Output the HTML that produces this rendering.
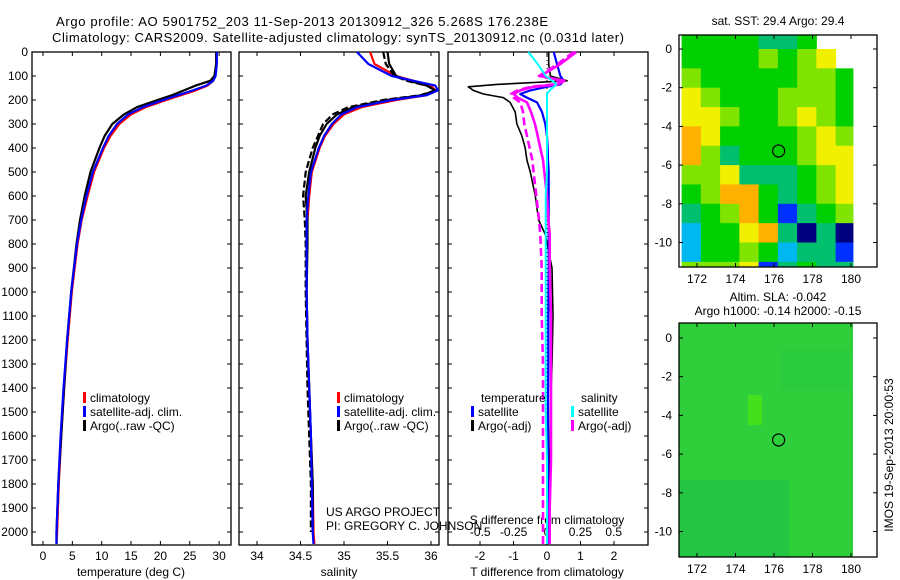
<!DOCTYPE html>
<html><head><meta charset="utf-8"><style>
body{margin:0;background:#fff;}
svg{display:block;font-family:"Liberation Sans",Arial,sans-serif;}
</style></head><body>
<svg id="fig" width="900" height="580" xmlns="http://www.w3.org/2000/svg">
<rect width="900" height="580" fill="#fff"/>
<text x="56" y="26" font-size="13" textLength="492">Argo profile: AO 5901752_203 11-Sep-2013 20130912_326 5.268S 176.238E</text>
<text x="52" y="42" font-size="13" textLength="572">Climatology: CARS2009. Satellite-adjusted climatology: synTS_20130912.nc (0.031d later)</text>
<g id="g"></g>
</svg>
<script>
// ---------- data ----------
const depthLabels=[0,100,200,300,400,500,600,700,800,900,1000,1100,1200,1300,1400,1500,1600,1700,1800,1900,2000];
const tempTicks=[0,5,10,15,20,25,30];
const salTicks=[34,34.5,35,35.5,36];
const tdTicks=[-2,-1,0,1,2];
const sdTicks=[-0.5,-0.25,0,0.25,0.5];
const profDepths=[0,50,100,120,140,160,180,200,230,260,300,350,400,500,600,700,800,1000,1200,1400,1600,1800,2000,2050];
const tempClim=[29.5,29.5,29.3,29.0,28.0,26.0,23.5,21.0,17.5,15.0,13.0,11.5,10.4,8.7,7.6,6.6,5.9,4.9,4.2,3.6,3.1,2.7,2.4,2.3];
const tempSat =[29.6,29.6,29.4,29.0,27.8,25.5,23.0,20.5,17.0,14.5,12.6,11.2,10.2,8.5,7.4,6.5,5.8,4.8,4.1,3.5,3.0,2.6,2.3,2.3];
const tempArgo=[29.5,29.5,29.2,28.5,26.0,24.0,22.0,19.5,16.0,13.8,11.8,10.5,9.6,8.1,7.1,6.3,5.7,4.8,4.1,3.6,3.1,2.6,2.3,2.3];
const salClim=[35.3,35.35,35.6,35.8,36.0,36.05,35.95,35.6,35.2,35.0,34.88,34.78,34.72,34.63,34.6,34.58,34.57,34.57,34.58,34.6,34.62,34.64,34.65,34.66];
const salSat =[35.15,35.28,35.55,35.8,36.05,36.08,35.95,35.55,35.15,34.97,34.86,34.77,34.71,34.62,34.59,34.57,34.57,34.57,34.58,34.6,34.62,34.63,34.64,34.65];
const salArgo=[35.5,35.52,35.6,35.75,35.95,36.05,35.9,35.5,35.1,34.92,34.8,34.72,34.67,34.6,34.56,34.58,34.58,34.57,34.58,34.6,34.62,34.64,34.64,34.64];
const salArgoRaw=[35.45,35.48,35.58,35.72,35.95,36.05,35.88,35.45,35.05,34.87,34.76,34.7,34.64,34.56,34.53,34.55,34.56,34.56,34.57,34.58,34.6,34.62,34.62,34.62];
const diffDepths=[0,50,100,120,135,145,160,175,190,210,250,300,350,400,450,500,600,700,760,900,1100,1300,1500,1700,1900,2050];
const tDiffArgo=[0.05,0.05,0.1,0.6,-1.5,-2.35,-2.2,-1.9,-1.3,-1.1,-0.95,-0.9,-0.75,-0.65,-0.6,-0.5,-0.35,-0.25,-0.05,0.15,0.18,0.15,0.1,0.08,0.05,0.05];
const tDiffSat=[0.2,0.3,0.4,0.5,0.4,0.0,-0.5,-0.8,-0.6,-0.3,-0.15,-0.05,0,0.02,0.03,0.05,0.05,0.05,0.05,0.05,0.04,0.04,0.03,0.03,0.02,0.02];
const sDiffSat=[-0.14,-0.07,-0.01,0.04,0.07,0.05,0.02,0.0,0.0,0.0,0.0,0.0,0.0,0.0,0.0,0.0,-0.01,-0.01,-0.01,-0.01,-0.01,-0.01,-0.01,0.0,0.0,0.0];
const sDiffArgo=[0.22,0.1,-0.05,0.13,0.08,-0.1,-0.2,-0.25,-0.22,-0.15,-0.12,-0.09,-0.07,-0.05,-0.03,-0.02,0.0,0.01,0.02,0.02,0.03,0.03,0.03,0.03,0.02,0.02];
const sDiffRaw=[0.2,0.08,-0.06,0.1,0.05,-0.12,-0.22,-0.27,-0.25,-0.2,-0.18,-0.17,-0.15,-0.13,-0.11,-0.1,-0.08,-0.06,-0.05,-0.04,-0.04,-0.03,-0.03,-0.03,-0.03,-0.03];
const mapLons=[171,172,173,174,175,176,177,178,179];
const mapLats=[0.7,0,-1,-2,-3,-4,-5,-6,-7,-8,-9,-10,-11];
const sstGrid=[
[4,4,4,4,3,3,4,-1,-1],
[4,4,4,4,5,4,5,6,-1],
[5,4,4,4,4,4,5,5,4],
[6,5,4,4,4,5,5,5,4],
[6,6,5,4,4,5,6,5,4],
[7,6,4,4,4,4,5,6,5],
[7,5,3,4,4,4,5,6,6],
[5,5,6,3,3,3,4,5,6],
[4,5,7,7,4,3,4,5,6],
[3,4,5,7,4,1,3,4,5],
[2,4,4,6,7,3,0,3,0],
[2,4,4,5,4,2,3,3,1],
[5,5,5,6,1,3,4,3,3]];
const palette=["#00007f","#0030ff","#00b8f0","#00c070","#00d000","#80e400","#f0f000","#ffb000","#e87000"];
const argoLon=176.24, argoLat=-5.27;

// ---------- helpers ----------
const NS="http://www.w3.org/2000/svg";
const G=document.getElementById('g');
function el(tag,attrs,parent){const e=document.createElementNS(NS,tag);for(const k in attrs)e.setAttribute(k,attrs[k]);(parent||G).appendChild(e);return e;}
const yD=d=>52+d*0.24;
const TOP=52,BOT=545;
function frame(x0,x1,name){
  const r=el('rect',{x:x0,y:TOP,width:x1-x0,height:BOT-TOP,fill:'none',stroke:'#000','stroke-width':1.3});
  
  
  depthLabels.forEach(d=>{el('line',{x1:x0,x2:x0+4,y1:yD(d),y2:yD(d),stroke:'#000'});el('line',{x1:x1,x2:x1-4,y1:yD(d),y2:yD(d),stroke:'#000'});});
}
function xTicks(x0,x1,ticks,fx,ly,name,fmt){
  ticks.forEach(v=>{const x=fx(v);el('line',{x1:x,x2:x,y1:BOT,y2:BOT-4,stroke:'#000'});el('line',{x1:x,x2:x,y1:TOP,y2:TOP+4,stroke:'#000'});
    const t=el('text',{x:x,y:ly,'font-size':12,'text-anchor':'middle'});t.textContent=fmt?fmt(v):String(v);
    
    });
}
function line(xs,ds,fx,color,w,name,dash){
  const p=xs.map((v,i)=>(i?'L':'M')+fx(v).toFixed(1)+','+yD(ds[i]).toFixed(1)).join('');
  const a={d:p,fill:'none',stroke:color,'stroke-width':w,'stroke-linejoin':'round'};if(dash)a['stroke-dasharray']=dash;
  const e=el('path',a);
  
  
}
function txt(x,y,s,name,size,anchor){const t=el('text',{x:x,y:y,'font-size':size||12,'text-anchor':anchor||'start'});t.textContent=s;
  
  return t;}
function legend(x,y,items,name){items.forEach((it,i)=>{el('rect',{x:x,y:y+i*14-10,width:3,height:11,fill:it[0]});txt(x+7,y+i*14,it[1],name);});}

depthLabels.forEach(d=>txt(28,yD(d)+4,String(d),'depth-tick-label',12,'end'));

// panel 1 temperature
const fT=v=>43+v*5.87;
frame(32,231,'temperature-panel');
xTicks(32,231,tempTicks,fT,560,'temperature-tick-label');
txt(131,576,'temperature (deg C)','temperature-axis-title',12,'middle');
line(tempClim,profDepths,fT,'#ff0000',2.2,'temp-climatology-line');
line(tempArgo,profDepths,fT,'#000',2.2,'temp-argo-line');
line(tempSat,profDepths,fT,'#0000ff',2.2,'temp-satellite-line');
legend(83,402,[['#f00','climatology'],['#00f','satellite-adj. clim.'],['#000','Argo(..raw -QC)']],'temperature-legend-entry');

// panel 2 salinity
const fS=v=>257+(v-34)*87;
frame(239,439,'salinity-panel');
xTicks(239,439,salTicks,fS,560,'salinity-tick-label');
txt(339,576,'salinity','salinity-axis-title',12,'middle');
line(salClim,profDepths,fS,'#ff0000',2.2,'sal-climatology-line');
line(salArgoRaw.slice(0,23),profDepths.slice(0,23),fS,'#000',2.2,'sal-argo-raw-line','7,3');
line(salArgo.slice(0,23),profDepths.slice(0,23),fS,'#000',2.2,'sal-argo-line');
line(salSat,profDepths,fS,'#0000ff',2.2,'sal-satellite-line');
legend(337,402,[['#f00','climatology'],['#00f','satellite-adj. clim.'],['#000','Argo(..raw -QC)']],'salinity-legend-entry');
txt(326,516,'US ARGO PROJECT','credit-line-1');
txt(326,530,'PI: GREGORY C. JOHNSON','credit-line-2');

// panel 3 differences
const fTd=v=>547+v*33.5, fSd=v=>547+v*133.5;
frame(448,648,'difference-panel');
el('line',{x1:547,x2:547,y1:TOP,y2:BOT,stroke:'#000','stroke-dasharray':'1,3'});
tdTicks.forEach(v=>{const x=fTd(v);el('line',{x1:x,x2:x,y1:BOT,y2:BOT-4,stroke:'#000'});el('line',{x1:x,x2:x,y1:TOP,y2:TOP+4,stroke:'#000'});txt(x,560,String(v),'t-diff-tick-label',12,'middle');});
sdTicks.forEach(v=>txt(fSd(v),536,String(v),'s-diff-tick-label',12,'middle'));
txt(547,524,'S difference from climatology','s-diff-axis-title',12,'middle');
txt(547,576,'T difference from climatology','t-diff-axis-title',12,'middle');
line(tDiffArgo,diffDepths,fTd,'#000',1.6,'t-diff-argo-line');
line(tDiffSat,diffDepths,fTd,'#0000ff',2.2,'t-diff-satellite-line');
line(sDiffRaw,diffDepths,fSd,'#ff00ff',2.6,'s-diff-argo-raw-line','8,4');
line(sDiffArgo,diffDepths,fSd,'#ff00ff',2.6,'s-diff-argo-line');
line(sDiffSat,diffDepths,fSd,'#00ffff',2,'s-diff-satellite-line');
txt(481,402,'temperature','diff-legend-temperature-header');
txt(581,402,'salinity','diff-legend-salinity-header');
legend(471,416,[['#00f','satellite'],['#000','Argo(-adj)']],'diff-legend-temperature-entry');
legend(571,416,[['#0ff','satellite'],['#f0f','Argo(-adj)']],'diff-legend-salinity-entry');

// maps
function mapFrame(top,bottom,lat0y){
  const fx=lon=>697+(lon-172)*19.25, fy=lat=>lat0y-lat*19.35;
  return {fx,fy,top,bottom};
}
function mapAxes(m,name){
  const r=el('rect',{x:679,y:m.top,width:198,height:m.bottom-m.top,fill:'none',stroke:'#000','stroke-width':1.3});
  
  
  [172,174,176,178,180].forEach(l=>{const x=m.fx(l);el('line',{x1:x,x2:x,y1:m.bottom,y2:m.bottom-4,stroke:'#000'});el('line',{x1:x,x2:x,y1:m.top,y2:m.top+4,stroke:'#000'});txt(x,m.bottom+16,String(l),'map-lon-tick-label',12,'middle');});
  [0,-2,-4,-6,-8,-10].forEach(l=>{const y=m.fy(l);el('line',{x1:679,x2:683,y1:y,y2:y,stroke:'#000'});el('line',{x1:877,x2:873,y1:y,y2:y,stroke:'#000'});txt(672,y+4,String(l),'map-lat-tick-label',12,'end');});
  const c=el('circle',{cx:m.fx(argoLon),cy:m.fy(argoLat),r:6,fill:'none',stroke:'#000','stroke-width':1.2});
  
  
}
const m1=mapFrame(35,267,49);
const clip1=el('clipPath',{id:'c1'});el('rect',{x:679,y:35,width:198,height:232},clip1);
const cells=el('g',{'clip-path':'url(#c1)'});
sstGrid.forEach((row,i)=>row.forEach((v,j)=>{if(v<0)return;
  const x0=m1.fx(mapLons[j]+0.2),x1=m1.fx(Math.min(mapLons[j]+1.2,180.1));
  const y0=m1.fy(mapLats[i]),y1=m1.fy(mapLats[i+1]===undefined?-11.3:mapLats[i+1]);
  const r=el('rect',{x:x0,y:y0,width:x1-x0+0.5,height:y1-y0+0.5,fill:palette[v]},cells);
  
  }));
mapAxes(m1,'sst-map-frame');
txt(778,25,'sat. SST: 29.4 Argo: 29.4','sst-map-title',12,'middle');

const m2=mapFrame(323,557,338);
const bg=el('rect',{x:679,y:323,width:174,height:234,fill:'#2ecf3a'});


el('rect',{x:679,y:480,width:110,height:77,fill:'#22c048',opacity:0.7});
el('rect',{x:748,y:395,width:14,height:30,fill:'#44e01c'});
el('rect',{x:780,y:350,width:70,height:40,fill:'#28c840',opacity:0.6});
mapAxes(m2,'sla-map-frame');
txt(778,301,'Altim. SLA: -0.042','sla-map-title-1',12,'middle');
txt(778,315,'Argo h1000: -0.14 h2000: -0.15','sla-map-title-2',12,'middle');
const v=txt(0,0,'IMOS 19-Sep-2013 20:00:53','timestamp-label',12,'middle');
v.setAttribute('transform','translate(893,455) rotate(-90)');
</script>
</body></html>
